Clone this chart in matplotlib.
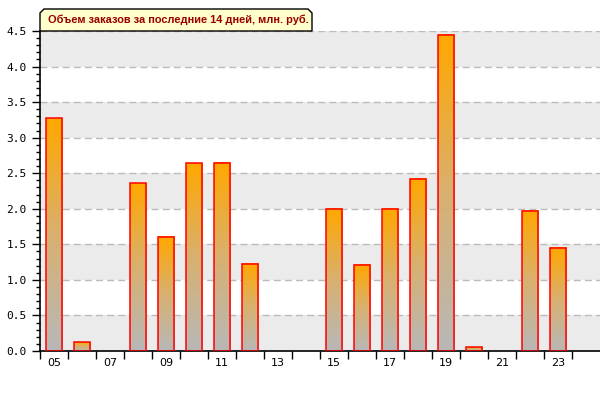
import matplotlib
matplotlib.use('Agg')
import matplotlib.pyplot as plt
import numpy as np
from matplotlib.patches import Rectangle, Polygon
from matplotlib.colors import LinearSegmentedColormap

# данные: день месяца и объем заказов, млн. руб.
days = [5, 6, 7, 8, 9, 10, 11, 12, 13, 14, 15, 16, 17, 18, 19, 20, 21, 22, 23, 24]
values = [3.27, 0.12, 0, 2.36, 1.61, 2.64, 2.65, 1.23, 0, 0, 2.0, 1.21, 2.0, 2.42, 4.45, 0.05, 0, 1.97, 1.45, 0]
tick_days = [5, 7, 9, 11, 13, 15, 17, 19, 21, 23]
title = 'Объем заказов за последние 14 дней, млн. руб.'

fig = plt.figure(figsize=(6, 4), dpi=100)
ax = fig.add_axes([40/600, 49/400, 560/600, 320/400])

# полосы фона
for k in range(9):
    if k % 2 == 0:
        ax.axhspan(k*0.5, (k+1)*0.5, color='#ebebeb', lw=0, zorder=0)
for k in range(1, 10):
    ax.axhline(k*0.5, color='#bbbbbb', lw=1, ls=(0, (5, 3)), zorder=1)

# столбцы с градиентом
cmap = LinearSegmentedColormap.from_list('g', ['#b8b8b8', '#d8b070', '#ffa800'])
grad = np.linspace(0, 1, 100).reshape(-1, 1)
w = 0.6
for d, v in zip(days, values):
    if v <= 0:
        continue
    ax.imshow(grad, cmap=cmap, origin='lower', aspect='auto',
              extent=[d - w/2, d + w/2, 0, v], zorder=2)
    ax.add_patch(Rectangle((d - w/2, 0), w, v, fill=False, ec='red', lw=1.1, zorder=3))
ax.set_xlim(4.5, 24.5)
ax.set_ylim(0, 4.5)

# оси
for s in ['top', 'right']:
    ax.spines[s].set_visible(False)
ax.spines['left'].set_linewidth(1.2)
ax.spines['bottom'].set_linewidth(1.2)

ax.set_yticks(np.arange(0, 4.51, 0.5))
ax.set_yticklabels(['%.1f' % t for t in np.arange(0, 4.51, 0.5)],
                   family='DejaVu Sans Mono', fontsize=8)
ax.set_yticks(np.arange(0, 4.51, 0.1), minor=True)
ax.tick_params(axis='y', which='major', length=6, width=1, direction='out')
ax.tick_params(axis='y', which='minor', length=3, width=1, direction='out')

ax.set_xticks(np.arange(4.5, 24.0, 1))
ax.set_xticklabels([])
ax.set_xticks(tick_days, minor=True)
ax.set_xticklabels(['%02d' % d for d in tick_days], minor=True, fontsize=8)
ax.tick_params(axis='x', which='major', length=6, width=1, direction='out')
ax.tick_params(axis='x', which='minor', length=0, pad=5)

# заголовок в рамке
x0, x1, y0, y1, c = 40, 312, 31, 9, 4
pts = [(x0, y0), (x0, y1 + c), (x0 + c, y1), (x1 - c, y1), (x1, y1 + c), (x1, y0)]
pts = [(x/600, 1 - y/400) for x, y in pts]
fig.patches.append(Polygon(pts, closed=True, fc='#ffffcc', ec='black', lw=1,
                           transform=fig.transFigure, zorder=5))
fig.text(48/600, 1 - 20/400, title, color='#990000', fontsize=7.9,
         family='Liberation Sans', fontweight='bold', va='center', ha='left', zorder=6)

fig.savefig('out.png', dpi=100)
